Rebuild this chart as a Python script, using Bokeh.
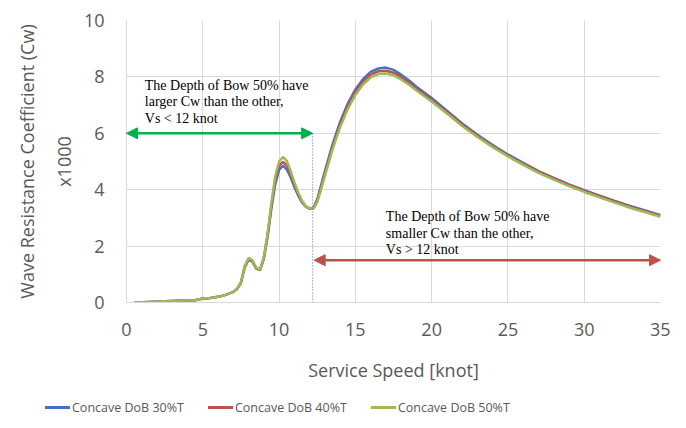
from bokeh.plotting import figure
from bokeh.layouts import column
from bokeh.models import (Range1d, LinearAxis, Label, Arrow, NormalHead,
                          ColumnDataSource, FixedTicker, Div)
from bokeh.embed import file_html
from bokeh.resources import INLINE

speed = [0.5, 1, 1.5, 2, 2.5, 3, 3.5, 4, 4.5, 5, 5.5, 6, 6.5, 7, 7.25, 7.5, 7.75, 8,
         8.25, 8.5, 8.75, 9, 9.25, 9.5, 9.75, 10, 10.25, 10.5, 10.75, 11, 11.25, 11.5,
         11.75, 12, 12.25, 12.5, 12.75, 13, 13.5, 14, 14.5, 15, 15.5, 16, 16.5, 17,
         17.5, 18, 18.5, 19, 20, 21, 22, 23, 24, 25, 26, 27, 28, 29, 30, 31, 32, 33, 34, 35]

cw_30 = [0.01, 0.01, 0.02, 0.03, 0.04, 0.05, 0.06, 0.07, 0.08, 0.14, 0.16, 0.20, 0.27, 0.38,
         0.48, 0.70, 1.25, 1.52, 1.45, 1.20, 1.15, 1.55, 2.35, 3.35, 4.20, 4.70, 4.85, 4.72,
         4.45, 4.10, 3.80, 3.55, 3.40, 3.33, 3.35, 3.65, 4.15, 4.65, 5.60, 6.40, 7.05, 7.55,
         7.92, 8.18, 8.30, 8.33, 8.25, 8.08, 7.88, 7.65, 7.25, 6.80, 6.35, 5.95, 5.58, 5.25,
         4.95, 4.66, 4.42, 4.19, 3.98, 3.79, 3.60, 3.42, 3.26, 3.10]

cw_40 = [0.01, 0.01, 0.02, 0.03, 0.04, 0.05, 0.06, 0.07, 0.08, 0.14, 0.16, 0.20, 0.27, 0.38,
         0.48, 0.70, 1.27, 1.54, 1.47, 1.21, 1.16, 1.57, 2.40, 3.45, 4.33, 4.84, 4.99, 4.86,
         4.56, 4.18, 3.85, 3.58, 3.41, 3.33, 3.34, 3.60, 4.08, 4.57, 5.52, 6.31, 6.96, 7.46,
         7.83, 8.08, 8.20, 8.22, 8.15, 7.99, 7.80, 7.58, 7.19, 6.75, 6.31, 5.91, 5.55, 5.22,
         4.92, 4.64, 4.40, 4.17, 3.96, 3.77, 3.58, 3.40, 3.24, 3.08]

cw_50 = [0.01, 0.01, 0.02, 0.03, 0.04, 0.05, 0.06, 0.07, 0.08, 0.14, 0.16, 0.20, 0.27, 0.38,
         0.49, 0.72, 1.30, 1.58, 1.50, 1.23, 1.17, 1.60, 2.46, 3.55, 4.48, 5.00, 5.16, 5.02,
         4.68, 4.27, 3.91, 3.61, 3.42, 3.34, 3.33, 3.55, 4.00, 4.48, 5.42, 6.21, 6.86, 7.36,
         7.73, 7.98, 8.10, 8.12, 8.06, 7.91, 7.73, 7.52, 7.13, 6.70, 6.26, 5.87, 5.51, 5.18,
         4.88, 4.60, 4.36, 4.13, 3.92, 3.73, 3.54, 3.36, 3.20, 3.04]

series_names = ["Concave DoB 30%T", "Concave DoB 40%T", "Concave DoB 50%T"]
series_colors = ["#4472C4", "#C0504D", "#9BBB59"]

x_ticks = [0, 5, 10, 15, 20, 25, 30, 35]
y_ticks = [0, 2, 4, 6, 8, 10]

split_speed = 12.2
green_arrow_y = 6.0
red_arrow_y = 1.5
note_low = "The Depth of Bow 50% have\nlarger Cw than the other,\nVs < 12 knot"
note_high = "The Depth of Bow 50% have\nsmaller Cw than the other,\nVs > 12 knot"

FONT = "Open Sans"
GRAY = "#595959"
GRID = "#D9D9D9"

p = figure(width=670, height=392, output_backend="svg", toolbar_location=None,
           x_range=Range1d(0, 35), y_range=Range1d(0, 10),
           min_border_left=126, min_border_right=10, min_border_top=20,
           min_border_bottom=90)
p.outline_line_color = None
p.background_fill_color = "white"

# axes
p.xaxis.ticker = FixedTicker(ticks=x_ticks)
p.yaxis.ticker = FixedTicker(ticks=y_ticks)
for ax in [p.xaxis[0], p.yaxis[0]]:
    ax.axis_line_color = GRID
    ax.major_tick_line_color = None
    ax.minor_tick_line_color = None
    ax.major_label_text_font = FONT
    ax.major_label_text_font_size = "18px"
    ax.major_label_text_color = GRAY
    ax.axis_label_text_font = FONT
    ax.axis_label_text_font_size = "18px"
    ax.axis_label_text_color = GRAY
    ax.axis_label_text_font_style = "normal"
p.yaxis.major_label_standoff = 16
p.xaxis.major_label_standoff = 14
p.xaxis.axis_label = "Service Speed [knot]"
p.xaxis.axis_label_standoff = 19
p.yaxis.axis_label = "x1000"
p.yaxis.axis_label_standoff = 5

outer = LinearAxis(axis_label="Wave Resistance Coefficient (Cw)",
                   ticker=FixedTicker(ticks=[]), axis_line_color=None,
                   major_tick_line_color=None, minor_tick_line_color=None,
                   major_label_text_font_size="0px",
                   axis_label_text_font=FONT, axis_label_text_font_size="18px",
                   axis_label_text_color=GRAY, axis_label_text_font_style="normal",
                   axis_label_standoff=10)
p.add_layout(outer, "left")

p.xgrid.grid_line_color = GRID
p.ygrid.grid_line_color = GRID

# series
for ys, col in zip([cw_30, cw_40, cw_50], series_colors):
    src = ColumnDataSource(dict(x=speed, y=ys))
    p.line("x", "y", source=src, line_color=col, line_width=2.5)

# dotted divider
p.line([split_speed, split_speed], [0, green_arrow_y], line_color="#4472C4",
       line_width=1, line_dash="1 2")

# arrows
p.add_layout(Arrow(x_start=0, y_start=green_arrow_y, x_end=split_speed, y_end=green_arrow_y,
                   line_color="#00B050", line_width=2.5,
                   start=NormalHead(size=11, fill_color="#00B050", line_color="#00B050"),
                   end=NormalHead(size=11, fill_color="#00B050", line_color="#00B050")))
p.add_layout(Arrow(x_start=split_speed + 0.1, y_start=red_arrow_y, x_end=35, y_end=red_arrow_y,
                   line_color="#C0504D", line_width=2.5,
                   start=NormalHead(size=11, fill_color="#C0504D", line_color="#C0504D"),
                   end=NormalHead(size=11, fill_color="#C0504D", line_color="#C0504D")))

# notes
p.add_layout(Label(x=1.2, y=7.97, text=note_low, text_font="Liberation Serif",
                   text_font_size="14px", text_color="black", text_baseline="top",
                   text_line_height=1.1))
p.add_layout(Label(x=17.0, y=3.3, text=note_high, text_font="Liberation Serif",
                   text_font_size="14px", text_color="black", text_baseline="top",
                   text_line_height=1.1))

# legend strip below the chart (HTML, real text)
parts = []
for name, col in zip(series_names, series_colors):
    parts.append(
        '<span style="display:inline-block;width:25px;height:0;'
        'border-top:3px solid %s;vertical-align:middle;margin-right:2px"></span>'
        '<span style="display:inline-block;margin-right:24px;vertical-align:middle">%s</span>'
        % (col, name))
legend_div = Div(text="".join(parts), width=670, height=20,
                 styles={"font-family": FONT, "font-size": "12.5px", "color": GRAY,
                         "padding-left": "40px", "line-height": "20px",
                         "white-space": "nowrap"})

layout = column(p, legend_div, spacing=0)
open("out.html", "w").write(file_html(layout, INLINE))
